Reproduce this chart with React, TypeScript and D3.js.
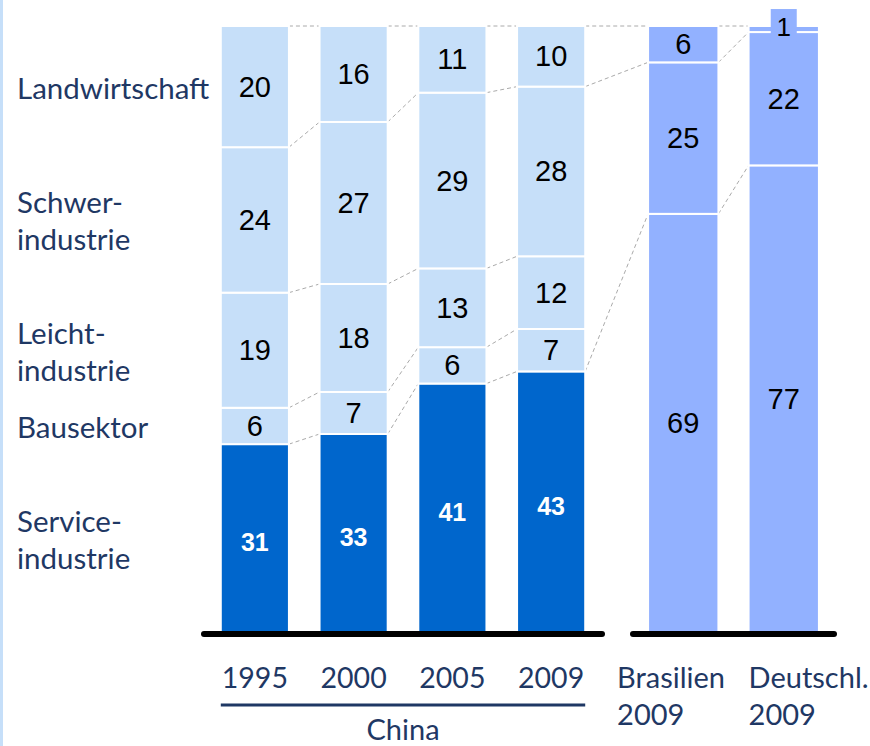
import React from "react";
import * as d3 from "d3";

// China, Anteil nach Sektor (%)
const chinaYears = ["1995", "2000", "2005", "2009"];
const service = [31, 33, 41, 43];
const bau = [6, 7, 6, 7];
const leicht = [19, 18, 13, 12];
const schwer = [24, 27, 29, 28];
const landw = [20, 16, 11, 10];

// Vergleichsländer 2009
const compareNames = ["Brasilien", "Deutschl."];
const compareYear = "2009";
const cmpService = [69, 77];
const cmpIndustrie = [25, 22];
const cmpLandw = [6, 1];

const chinaKeys = ["service", "bau", "leicht", "schwer", "landw"];
const cmpKeys = ["service", "industrie", "landw"];
const sectorLabels: Record<string, string[]> = {
  service: ["Service-", "industrie"],
  bau: ["Bausektor"],
  leicht: ["Leicht-", "industrie"],
  schwer: ["Schwer-", "industrie"],
  landw: ["Landwirtschaft"],
};

const W = 870;
const H = 746;
const navy = "#1f3864";
const darkBlue = "#0066cc";
const lightBlue = "#c6dff9";
const midBlue = "#92b1ff";
const labelFont = "Lato, 'Open Sans', sans-serif";
const numFont = "'Liberation Sans', Arial, sans-serif";

export default function App() {
  const chinaRows = chinaYears.map((year, i) => ({
    year,
    service: service[i],
    bau: bau[i],
    leicht: leicht[i],
    schwer: schwer[i],
    landw: landw[i],
  }));
  const cmpRows = compareNames.map((name, i) => ({
    name,
    service: cmpService[i],
    industrie: cmpIndustrie[i],
    landw: cmpLandw[i],
  }));

  const chinaStack = d3.stack<any>().keys(chinaKeys).offset(d3.stackOffsetExpand)(chinaRows);
  const cmpStack = d3.stack<any>().keys(cmpKeys).offset(d3.stackOffsetExpand)(cmpRows);

  const y = d3.scaleLinear().domain([0, 1]).range([632, 26]);
  const xc = d3.scaleBand().domain(chinaYears).range([204, 602]).paddingInner(0.31).paddingOuter(0.17);
  const xo = d3.scaleBand().domain(compareNames).range([633, 834]).paddingInner(0.3).paddingOuter(0.15);
  const bwc = xc.bandwidth();
  const bwo = xo.bandwidth();

  const dash = { stroke: "#aaaaaa", strokeWidth: 1, strokeDasharray: "4,3", fill: "none" };

  // connector lines
  const connectors: JSX.Element[] = [];
  chinaYears.slice(0, -1).forEach((yr, i) => {
    chinaStack.forEach((s, k) => {
      connectors.push(
        <line key={`c${i}-${k}`} x1={xc(yr)! + bwc} y1={y(s[i][1])}
          x2={xc(chinaYears[i + 1])!} y2={y(s[i + 1][1])} style={dash} />
      );
    });
  });
  const last = chinaYears.length - 1;
  const map: [number, number][] = [[0, 0], [3, 1], [4, 2]];
  map.forEach(([ck, ok]) => {
    connectors.push(
      <line key={`b${ck}`} x1={xc(chinaYears[last])! + bwc} y1={y(chinaStack[ck][last][1])}
        x2={xo(compareNames[0])!} y2={y(cmpStack[ok][0][1])} style={dash} />
    );
  });
  cmpStack.forEach((s, k) => {
    connectors.push(
      <line key={`d${k}`} x1={xo(compareNames[0])! + bwo} y1={y(s[0][1])}
        x2={xo(compareNames[1])!} y2={y(s[1][1])} style={dash} />
    );
  });

  // sector labels aligned with the first China bar
  const first = 0;

  return (
    <div style={{ position: "absolute", left: 0, top: 0 }}>
      <svg width={W} height={H} style={{ display: "block", background: "#fff" }}>
        <rect x={0} y={0} width={3} height={H} fill={lightBlue} />
        {connectors}
        {chinaStack.map((s) =>
          s.map((d, i) => {
            const isService = s.key === "service";
            const y0 = y(d[1]);
            const h = y(d[0]) - y(d[1]);
            const v = (chinaRows[i] as any)[s.key];
            return (
              <g key={`${s.key}-${i}`}>
                <rect x={xc(chinaYears[i])} y={y0} width={bwc} height={h}
                  fill={isService ? darkBlue : lightBlue} stroke="#fff" strokeWidth={2} />
                <text x={xc(chinaYears[i])! + bwc / 2} y={y0 + h / 2 + (isService ? 4 : 0)}
                  textAnchor="middle" dominantBaseline="central"
                  fontFamily={numFont} fontSize={isService ? 25 : 29}
                  fontWeight={isService ? "bold" : "normal"}
                  fill={isService ? "#fff" : "#000"}>{v}</text>
              </g>
            );
          })
        )}
        {cmpStack.map((s) =>
          s.map((d, i) => {
            const y0 = y(d[1]);
            const h = y(d[0]) - y(d[1]);
            const v = (cmpRows[i] as any)[s.key];
            const cx = xo(compareNames[i])! + bwo / 2;
            const small = h < 20;
            return (
              <g key={`o-${s.key}-${i}`}>
                <rect x={xo(compareNames[i])} y={y0} width={bwo} height={h}
                  fill={midBlue} stroke="#fff" strokeWidth={2} />
                {small && (
                  <rect x={cx - 13} y={y0 + h / 2 - 20} width={26} height={32} fill={midBlue} />
                )}
                <text x={cx} y={y0 + h / 2 + (small ? -2 : 0)} textAnchor="middle" dominantBaseline="central"
                  fontFamily={numFont} fontSize={small ? 26 : 29} fill="#000">{v}</text>
              </g>
            );
          })
        )}
        {/* baselines */}
        <line x1={204} x2={602} y1={634} y2={634} stroke="#000" strokeWidth={6} strokeLinecap="round" />
        <line x1={633} x2={834} y1={634} y2={634} stroke="#000" strokeWidth={6} strokeLinecap="round" />
        {/* sector labels */}
        {chinaStack.map((s) => {
          const d = s[first];
          const cy = (y(d[0]) + y(d[1])) / 2;
          const lines = sectorLabels[s.key];
          const top = cy + 12 - ((lines.length - 1) * 37) / 2;
          return (
            <text key={`l-${s.key}`} fontFamily={labelFont} fontSize={29.5} fill={navy}>
              {lines.map((t, j) => (
                <tspan key={j} x={17} y={top + j * 37}>{t}</tspan>
              ))}
            </text>
          );
        })}
        {/* x labels */}
        {chinaYears.map((yr) => (
          <text key={yr} x={xc(yr)! + bwc / 2} y={688} textAnchor="middle"
            fontFamily={labelFont} fontSize={28.5} fill={navy}>{yr}</text>
        ))}
        <line x1={xc(chinaYears[0])!} x2={xc(chinaYears[last])! + bwc} y1={705} y2={705}
          stroke={navy} strokeWidth={3} />
        <text x={(xc(chinaYears[0])! + xc(chinaYears[last])! + bwc) / 2} y={740} textAnchor="middle"
          fontFamily={labelFont} fontSize={29} fill={navy}>China</text>
        {compareNames.map((n, i) => (
          <text key={n} fontFamily={labelFont} fontSize={29} fill={navy}>
            <tspan x={xo(n)! - (i === 0 ? 31 : 0)} y={688}>{n}</tspan>
            <tspan x={xo(n)! - (i === 0 ? 31 : 0)} y={725}>{compareYear}</tspan>
          </text>
        ))}
      </svg>
    </div>
  );
}
